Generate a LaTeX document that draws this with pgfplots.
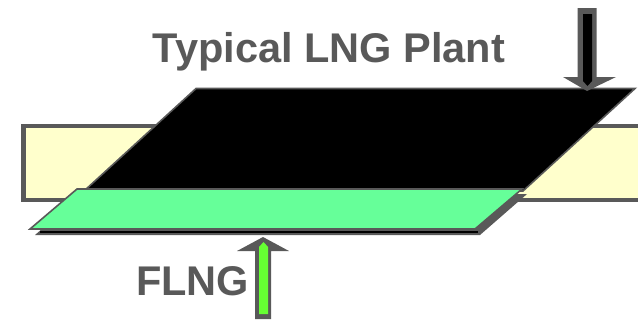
\documentclass[border=0pt]{standalone}
\usepackage{pgfplots}
\pgfplotsset{compat=1.18}
\usepackage{fontspec}
\setmainfont{Liberation Sans}
\definecolor{edgegray}{RGB}{89,89,89}
\definecolor{cream}{RGB}{255,255,204}
\definecolor{mint}{RGB}{102,255,153}
\definecolor{lime}{RGB}{102,255,51}
\begin{document}
\begin{tikzpicture}
\begin{axis}[
  width=638bp, height=320bp, scale only axis,
  xmin=0, xmax=638, ymin=0, ymax=320, y dir=reverse,
  hide axis, clip=true,
]
% frame of the picture
\addplot[draw=none, forget plot] coordinates {(0,0) (638,320)};

% cream band with its thick grey border
\addplot[fill=edgegray, draw=none] coordinates {(21,123.5) (660,123.5) (660,202) (21,202)} -- cycle;
\addplot[fill=cream, draw=none] coordinates {(25.5,128) (660,128) (660,197.5) (25.5,197.5)} -- cycle;

% typical plant footprint (black slab)
\addplot[fill=black, draw=edgegray, line width=1.6bp, line join=miter] coordinates {(196,88.5) (635,88.5) (523,191) (84,191)} -- cycle;

% FLNG footprint: shadow, edge line and green slab
\addplot[fill=edgegray, draw=none] coordinates {(82,194) (527,194) (480,235) (35,235)} -- cycle;
\addplot[draw=black, line width=1.6bp] coordinates {(40,232) (478,232)};
\addplot[fill=mint, draw=edgegray, line width=1.6bp, line join=miter] coordinates {(77,189) (522,189) (475,229) (30,229)} -- cycle;

% downward arrow onto the plant
\addplot[fill=edgegray, draw=none] coordinates {(577.5,8) (596.5,8) (596.5,77) (616,77) (587,91) (563,77) (577.5,77)} -- cycle;
\addplot[fill=black, draw=none] coordinates {(583,14) (592,14) (592,81) (587.5,86) (583,81)} -- cycle;

% upward arrow onto the FLNG
\addplot[fill=edgegray, draw=none] coordinates {(255,319) (271,319) (271,251) (289,251) (263,237) (237,251) (255,251)} -- cycle;
\addplot[fill=lime, draw=none] coordinates {(259,314) (268,314) (268,247) (263.5,242) (259,247)} -- cycle;

% labels
\node[anchor=base, text=edgegray, font=\fontsize{41.5bp}{44bp}\selectfont\bfseries, inner sep=0pt] at (axis cs:329,62) {Typical LNG Plant};
\node[anchor=base, text=edgegray, font=\fontsize{41.5bp}{44bp}\selectfont\bfseries, inner sep=0pt] at (axis cs:192.5,295) {FLNG};
\end{axis}
\end{tikzpicture}
\end{document}
